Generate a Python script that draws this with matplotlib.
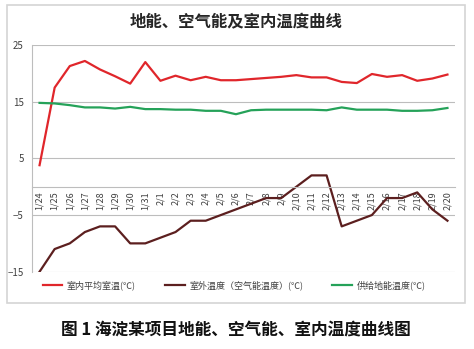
import matplotlib.pyplot as plt
from matplotlib.patches import Rectangle

plt.rcParams['font.family'] = ['Noto Sans CJK SC', 'DejaVu Sans']

dates = ['1/24', '1/25', '1/26', '1/27', '1/28', '1/29', '1/30', '1/31',
         '2/1', '2/2', '2/3', '2/4', '2/5', '2/6', '2/7', '2/8', '2/9',
         '2/10', '2/11', '2/12', '2/13', '2/14', '2/15', '2/16', '2/17',
         '2/18', '2/19', '2/20']

# 室内平均室温
indoor = [3.8, 17.5, 21.3, 22.2, 20.7, 19.5, 18.2, 22.0, 18.7, 19.6,
          18.8, 19.4, 18.8, 18.8, 19.0, 19.2, 19.4, 19.7, 19.3, 19.3,
          18.5, 18.3, 19.9, 19.4, 19.7, 18.7, 19.1, 19.8]
# 室外温度（空气能温度）
outdoor = [-15, -11, -10, -8, -7, -7, -10, -10, -9, -8, -6, -6, -5, -4,
           -3, -2, -2, 0, 2, 2, -7, -6, -5, -2, -2, -1, -4, -6]
# 供给地能温度
ground = [14.8, 14.7, 14.4, 14.0, 14.0, 13.8, 14.1, 13.7, 13.7, 13.6,
          13.6, 13.4, 13.4, 12.8, 13.5, 13.6, 13.6, 13.6, 13.6, 13.5,
          14.0, 13.6, 13.6, 13.6, 13.4, 13.4, 13.5, 13.9]

W, H = 474, 349
fig = plt.figure(figsize=(W / 100, H / 100), dpi=100)

# outer chart frame
fig.patches.append(Rectangle((7 / W, 1 - 303 / H), 458 / W, 298 / H,
                             transform=fig.transFigure, fill=False,
                             edgecolor='#d4d4d4', linewidth=1.2))

ax = fig.add_axes([32 / W, 1 - 271.7 / H, 423 / W, 226.6 / H])

# category axis crosses at 0 (set before the tick labels, it resets them)
ax.spines['bottom'].set_position(('data', 0))
ax.spines['bottom'].set_color('#bdbdbd')
ax.spines['left'].set_color('#bdbdbd')
ax.spines['top'].set_visible(False)
ax.spines['right'].set_visible(False)

x = list(range(len(dates)))
ax.plot(x, indoor, color='#e0262b', lw=1.6, label='室内平均室温(℃)')
ax.plot(x, outdoor, color='#5c1f1f', lw=1.6, label='室外温度（空气能温度）(℃)')
ax.plot(x, ground, color='#25a259', lw=1.6, label='供给地能温度(℃)')

ax.set_xlim(-0.5, len(dates) - 0.5)
ax.set_ylim(-15, 25)
ax.set_yticks([-15, -5, 5, 15, 25])
ax.grid(axis='y', color='#bdbdbd', lw=0.8)
ax.set_axisbelow(True)

ax.set_xticks(x)
ax.set_xticklabels(dates, rotation=90, fontsize=6.5, color='#404040')
ax.tick_params(axis='x', length=0, pad=3)
ax.tick_params(axis='y', length=0, pad=6, labelsize=7, labelcolor='#404040')

fig.text(236 / W, 1 - 22 / H, '地能、空气能及室内温度曲线', ha='center',
         va='center', fontsize=11.8, fontweight='bold', color='#262626')

fig.legend(loc='center', bbox_to_anchor=(234 / W, 1 - 285 / H), ncol=3,
           frameon=False, fontsize=6.5, handlelength=2.2, columnspacing=3.2,
           handletextpad=0.5, labelcolor='#404040')

fig.text(236 / W, 1 - 330 / H, '图 1 海淀某项目地能、空气能、室内温度曲线图',
         ha='center', va='center', fontsize=12, fontweight='heavy',
         color='#111111')

fig.savefig('out.png', dpi=100)
